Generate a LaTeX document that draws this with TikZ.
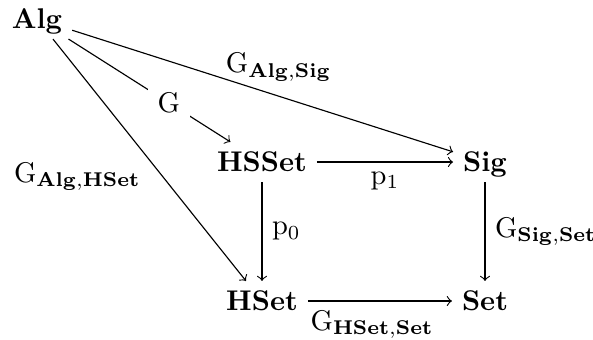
\documentclass[tikz,border=0pt]{standalone}
\begin{document}
\begin{tikzpicture}[x=0.3509pt, y=-0.3509pt,
  obj/.style={font=\bfseries, text height=7pt, text depth=0pt, inner sep=3.33pt},
  lbl/.style={inner sep=3.33pt},
  arr/.style={->, line width=0.4pt}]
\useasboundingbox (0,0) rectangle (593,340);

% objects
\node[obj, anchor=base] (alg)   at (37,29)   {Alg};
\node[obj, anchor=base] (hsset) at (262,172) {HSSet};
\node[obj, anchor=base] (sig)   at (485,172) {Sig};
\node[obj, anchor=base] (hset)  at (262,311) {HSet};
\node[obj, anchor=base] (set)   at (485,311) {Set};

% morphisms
\draw[arr] (alg) -- node[lbl, midway, above, xshift=5.6pt] (lalgsig)
  {$\mathrm{G}_{\mathbf{Alg},\mathbf{Sig}}$} (sig);
\draw[arr] (alg) -- node[lbl, pos=0.62, fill=white] (lg) {$\mathrm{G}$} (hsset);
\draw[arr] (alg) -- node[lbl, pos=0.568, left, xshift=-4.2pt] (lalghset)
  {$\mathrm{G}_{\mathbf{Alg},\mathbf{HSet}}$} (hset);
\draw[arr] (hsset) -- node[lbl, midway, below] (lp1) {$\mathrm{p}_1$} (sig);
\draw[arr] (hsset) -- node[lbl, midway, right] (lp0) {$\mathrm{p}_0$} (hset);
\draw[arr] (sig) -- node[lbl, midway, right] (lsigset)
  {$\mathrm{G}_{\mathbf{Sig},\mathbf{Set}}$} (set);
\draw[arr] (hset) -- node[lbl, pos=0.446, below] (lhsetset)
  {$\mathrm{G}_{\mathbf{HSet},\mathbf{Set}}$} (set);
\end{tikzpicture}
\end{document}
